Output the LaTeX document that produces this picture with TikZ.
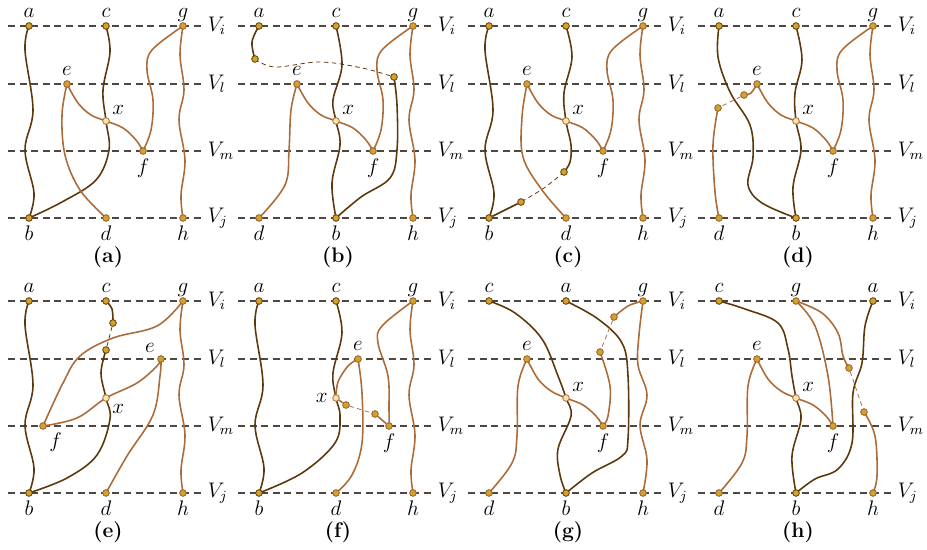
\documentclass[tikz,border=0pt]{standalone}
\usetikzlibrary{backgrounds}
\definecolor{darkbrown}{RGB}{92,56,12}
\definecolor{lightbrown}{RGB}{172,108,58}
\definecolor{gold}{RGB}{212,162,40}
\definecolor{paleg}{RGB}{250,228,170}
\definecolor{levelgray}{RGB}{80,72,64}
\tikzset{
  vtx/.style={circle,draw=darkbrown,fill=gold,line width=0.45pt,inner sep=0pt,minimum size=3.8pt},
  lvtx/.style={vtx,draw=lightbrown!85!black},
  xvtx/.style={vtx,draw=lightbrown,fill=paleg},
  level/.style={dash pattern=on 4pt off 2.6pt,line width=0.6pt,levelgray},
  darkpath/.style={darkbrown,line width=0.9pt,smooth,tension=0.6},
  lightpath/.style={lightbrown,line width=0.9pt,smooth,tension=0.6},
  breakline/.style={dash pattern=on 2.5pt off 2pt,line width=0.45pt},
  every label/.style={inner sep=0.8pt,text depth=0pt},
  label distance=1.6pt
}

\begin{document}
\begin{tikzpicture}[x=0.02cm,y=-0.02cm,font=\large]
\useasboundingbox (0,0) rectangle (927,550);
% levels and captions
\begin{scope}[on background layer]
\foreach \px/\py/\tag in {0/0/a,230/0/b,460/0/c,690/0/d,0/275/e,230/275/f,460/275/g,690/275/h}{
  \begin{scope}[shift={(\px,\py)}]
  \foreach \ly/\lv in {26/i,84/l,151/m,218/j}
    \draw[level] (8,\ly) -- (203,\ly) node[right,inner sep=2.5pt,text=black] (lv-\tag\lv) {$V_\lv$};
  \node (cap-\tag) at (108,257) {\textbf{(\tag)}};
  \end{scope}
}
\end{scope}

% (a)
\begin{scope}[name prefix=pa-]
\node[vtx,label=above:$a$] (a) at (29,26) {};
\node[vtx,label=above:$c$] (c) at (106,26) {};
\node[lvtx,label=above:$g$] (g) at (183,26) {};
\node[lvtx,label=above:$e$] (e) at (67,84) {};
\node[xvtx,label=above right:$x$] (x) at (106,121) {};
\node[lvtx,label=below:$f$] (f) at (143,151) {};
\node[vtx,label=below:$b$] (b) at (29,218) {};
\node[lvtx,label=below:$d$] (d) at (106,218) {};
\node[lvtx,label=below:$h$] (h) at (183,218) {};
\begin{scope}[on background layer]
\draw[darkpath] plot coordinates {(a) (25,50) (33,110) (25,150) (34,193) (b)};
\draw[darkpath] plot coordinates {(c) (110,52) (103,90) (x) (109,150) (96,180) (62,202) (b)};
\draw[lightpath] plot coordinates {(e) (78,103) (91,115) (x) (123,128) (136,140) (f)};
\draw[lightpath] plot coordinates {(e) (62,115) (65,155) (80,190) (d)};
\draw[lightpath] plot coordinates {(g) (152,50) (147,70) (153,100) (151,130) (f)};
\draw[lightpath] plot coordinates {(g) (180,55) (184,90) (179,120) (185,160) (181,195) (h)};
\end{scope}
\end{scope}

% (b)
\begin{scope}[shift={(230,0)},name prefix=pb-]
\node[vtx,label=above:$a$] (a) at (29,26) {};
\node[vtx,label=above:$c$] (c) at (106,26) {};
\node[lvtx,label=above:$g$] (g) at (183,26) {};
\node[lvtx,label=above:$e$] (e) at (67,84) {};
\node[xvtx,label=above right:$x$] (x) at (106,121) {};
\node[lvtx,label=below:$f$] (f) at (143,151) {};
\node[lvtx,label=below:$d$] (d) at (29,218) {};
\node[vtx,label=below:$b$] (b) at (106,218) {};
\node[lvtx,label=below:$h$] (h) at (183,218) {};
\node[vtx] (a2) at (25,59) {};
\node[vtx] (p) at (164,77) {};
\begin{scope}[on background layer]
\draw[darkpath] plot coordinates {(a) (22,42) (a2)};
\draw[darkpath,breakline] plot coordinates {(a2) (45,67) (90,62) (132,68) (p)};
\draw[darkpath] plot coordinates {(p) (167,105) (167,150) (160,178) (131,197) (b)};
\draw[darkpath] plot coordinates {(c) (112,65) (103,100) (x) (110,145) (102,183) (b)};
\draw[lightpath] plot coordinates {(e) (78,103) (91,115) (x) (123,128) (136,140) (f)};
\draw[lightpath] plot coordinates {(e) (61,110) (59,150) (55,185) (d)};
\draw[lightpath] plot coordinates {(g) (152,50) (147,70) (153,100) (151,130) (f)};
\draw[lightpath] plot coordinates {(g) (180,55) (184,90) (179,120) (185,160) (181,195) (h)};
\end{scope}
\end{scope}

% (c)
\begin{scope}[shift={(460,0)},name prefix=pc-]
\node[vtx,label=above:$a$] (a) at (29,26) {};
\node[vtx,label=above:$c$] (c) at (106,26) {};
\node[lvtx,label=above:$g$] (g) at (183,26) {};
\node[lvtx,label=above:$e$] (e) at (67,84) {};
\node[xvtx,label=above right:$x$] (x) at (106,121) {};
\node[lvtx,label=below:$f$] (f) at (143,151) {};
\node[vtx,label=below:$b$] (b) at (29,218) {};
\node[lvtx,label=below:$d$] (d) at (106,218) {};
\node[lvtx,label=below:$h$] (h) at (183,218) {};
\node[vtx] (c2) at (104,172) {};
\node[vtx] (b2) at (61,202) {};
\begin{scope}[on background layer]
\draw[darkpath] plot coordinates {(a) (25,50) (33,110) (25,150) (34,193) (b)};
\draw[darkpath] plot coordinates {(c) (112,57) (104,93) (x) (111,145) (110,162) (c2)};
\draw[darkpath,breakline] plot coordinates {(c2) (84,188) (b2)};
\draw[darkpath] (b2) -- (b);
\draw[lightpath] plot coordinates {(e) (78,103) (91,115) (x) (123,128) (136,140) (f)};
\draw[lightpath] plot coordinates {(e) (62,117) (63,157) (82,190) (d)};
\draw[lightpath] plot coordinates {(g) (152,50) (147,70) (153,100) (151,130) (f)};
\draw[lightpath] plot coordinates {(g) (180,55) (184,90) (179,120) (185,160) (181,195) (h)};
\end{scope}
\end{scope}

% (d)
\begin{scope}[shift={(690,0)},name prefix=pd-]
\node[vtx,label=above:$a$] (a) at (29,26) {};
\node[vtx,label=above:$c$] (c) at (106,26) {};
\node[lvtx,label=above:$g$] (g) at (183,26) {};
\node[lvtx,label=above:$e$] (e) at (67,84) {};
\node[xvtx,label=above right:$x$] (x) at (106,121) {};
\node[lvtx,label=below:$f$] (f) at (143,151) {};
\node[lvtx,label=below:$d$] (d) at (29,218) {};
\node[vtx,label=below:$b$] (b) at (106,218) {};
\node[lvtx,label=below:$h$] (h) at (183,218) {};
\node[lvtx] (e2) at (54,95) {};
\node[lvtx] (d2) at (28,108) {};
\begin{scope}[on background layer]
\draw[darkpath] plot coordinates {(a) (28,57) (40,92) (60,125) (63,157) (58,185) (72,203) (b)};
\draw[darkpath] plot coordinates {(c) (112,60) (105,93) (x) (111,150) (103,187) (b)};
\draw[lightpath] plot coordinates {(e) (61,93) (e2)};
\draw[lightpath,breakline] (e2) -- (d2);
\draw[lightpath] plot coordinates {(d2) (23,145) (25,192) (d)};
\draw[lightpath] plot coordinates {(e) (78,103) (91,115) (x) (123,128) (136,140) (f)};
\draw[lightpath] plot coordinates {(g) (152,50) (147,70) (153,100) (151,130) (f)};
\draw[lightpath] plot coordinates {(g) (180,55) (184,90) (179,120) (185,160) (181,195) (h)};
\end{scope}
\end{scope}

% (e)
\begin{scope}[shift={(0,275)},name prefix=pe-]
\node[vtx,label=above:$a$] (a) at (29,26) {};
\node[vtx,label=above:$c$] (c) at (106,26) {};
\node[lvtx,label=above:$g$] (g) at (183,26) {};
\node[lvtx,label=above left:$e$] (e) at (161,84) {};
\node[xvtx,label=below right:$x$] (x) at (106,123) {};
\node[lvtx,label=below right:$f$] (f) at (43,151) {};
\node[vtx,label=below:$b$] (b) at (29,218) {};
\node[lvtx,label=below:$d$] (d) at (106,218) {};
\node[lvtx,label=below:$h$] (h) at (183,218) {};
\node[vtx] (c2) at (113,48) {};
\node[vtx] (x2) at (106,75) {};
\begin{scope}[on background layer]
\draw[darkpath] plot coordinates {(a) (25,50) (33,110) (25,150) (34,193) (b)};
\draw[darkpath] plot coordinates {(c) (112,34) (c2)};
\draw[darkpath,breakline] (c2) -- (x2);
\draw[darkpath] plot coordinates {(x2) (101,98) (x) (110,144) (97,180) (67,203) (b)};
\draw[lightpath] plot coordinates {(g) (157,51) (113,63) (80,81) (63,108) (f)};
\draw[lightpath] plot coordinates {(f) (77,143) (x) (137,108) (157,91) (e)};
\draw[lightpath] plot coordinates {(e) (160,101) (153,140) (127,181) (d)};
\draw[lightpath] plot coordinates {(g) (180,55) (184,90) (179,120) (185,160) (181,195) (h)};
\end{scope}
\end{scope}

% (f)
\begin{scope}[shift={(230,275)},name prefix=pf-]
\node[vtx,label=above:$a$] (a) at (29,26) {};
\node[vtx,label=above:$c$] (c) at (106,26) {};
\node[lvtx,label=above:$g$] (g) at (183,26) {};
\node[lvtx,label=above:$e$] (e) at (128,84) {};
\node[xvtx,label=left:$x$] (x) at (106,123) {};
\node[lvtx,label=below:$f$] (f) at (159,151) {};
\node[vtx,label=below:$b$] (b) at (29,218) {};
\node[lvtx,label=below:$d$] (d) at (106,218) {};
\node[lvtx,label=below:$h$] (h) at (183,218) {};
\node[lvtx] (x2) at (116,130) {};
\node[lvtx] (f2) at (145,139) {};
\begin{scope}[on background layer]
\draw[darkpath] plot coordinates {(a) (25,50) (33,110) (25,150) (34,193) (b)};
\draw[darkpath] plot coordinates {(c) (112,58) (103,98) (x) (110,141) (105,168) (72,198) (b)};
\draw[lightpath] plot coordinates {(x) (108,107) (118,91) (e)};
\draw[lightpath] (x) -- (x2);
\draw[lightpath,breakline] (x2) -- (f2);
\draw[lightpath] (f2) -- (f);
\draw[lightpath] plot coordinates {(e) (132,118) (132,168) (122,200) (d)};
\draw[lightpath] plot coordinates {(g) (152,51) (148,68) (158,101) (159,134) (f)};
\draw[lightpath] plot coordinates {(g) (180,55) (184,90) (179,120) (185,160) (181,195) (h)};
\end{scope}
\end{scope}

% (g)
\begin{scope}[shift={(460,275)},name prefix=pg-]
\node[vtx,label=above:$c$] (c) at (29,26) {};
\node[vtx,label=above:$a$] (a) at (106,26) {};
\node[lvtx,label=above:$g$] (g) at (183,26) {};
\node[lvtx,label=above:$e$] (e) at (67,84) {};
\node[xvtx,label=above right:$x$] (x) at (106,123) {};
\node[lvtx,label=below:$f$] (f) at (143,151) {};
\node[lvtx,label=below:$d$] (d) at (29,218) {};
\node[vtx,label=below:$b$] (b) at (106,218) {};
\node[lvtx,label=below:$h$] (h) at (183,218) {};
\node[lvtx] (g2) at (154,42) {};
\node[lvtx] (f2) at (140,77) {};
\begin{scope}[on background layer]
\draw[darkpath] plot coordinates {(c) (55,38) (82,64) (98,101) (x) (111,141) (98,174) (100,200) (b)};
\draw[darkpath] plot coordinates {(a) (138,44) (162,68) (168,101) (168,164) (162,181) (132,198) (b)};
\draw[lightpath] plot coordinates {(g) (168,31) (g2)};
\draw[lightpath,breakline] (g2) -- (f2);
\draw[lightpath] plot coordinates {(f2) (150,111) (148,141) (f)};
\draw[lightpath] plot coordinates {(e) (78,104) (91,116) (x) (123,130) (136,141) (f)};
\draw[lightpath] plot coordinates {(e) (58,111) (57,161) (52,188) (d)};
\draw[lightpath] plot coordinates {(g) (179,60) (178,90) (187,120) (180,150) (187,185) (h)};
\end{scope}
\end{scope}

% (h)
\begin{scope}[shift={(690,275)},name prefix=ph-]
\node[vtx,label=above:$c$] (c) at (29,26) {};
\node[lvtx,label=above:$g$] (g) at (106,26) {};
\node[vtx,label=above:$a$] (a) at (183,26) {};
\node[lvtx,label=above:$e$] (e) at (67,84) {};
\node[xvtx,label=above right:$x$] (x) at (106,123) {};
\node[lvtx,label=below:$f$] (f) at (143,151) {};
\node[lvtx,label=below:$d$] (d) at (29,218) {};
\node[vtx,label=below:$b$] (b) at (106,218) {};
\node[lvtx,label=below:$h$] (h) at (183,218) {};
\node[lvtx] (g2) at (159,93) {};
\node[lvtx] (h2) at (174,137) {};
\begin{scope}[on background layer]
\draw[darkpath] plot coordinates {(c) (55,34) (88,48) (98,74) (102,101) (x) (111,144) (102,181) (b)};
\draw[darkpath] plot coordinates {(a) (175,51) (172,88) (163,118) (162,168) (148,194) (125,204) (b)};
\draw[lightpath] plot coordinates {(g) (125,51) (138,101) (f)};
\draw[lightpath] plot coordinates {(g) (132,38) (148,58) (153,81) (g2)};
\draw[lightpath,breakline] (g2) -- (h2);
\draw[lightpath] plot coordinates {(h2) (185,161) (187,201) (h)};
\draw[lightpath] plot coordinates {(e) (78,104) (91,116) (x) (123,130) (136,141) (f)};
\draw[lightpath] plot coordinates {(e) (58,111) (57,161) (52,188) (d)};
\end{scope}
\end{scope}
\end{tikzpicture}
\end{document}
